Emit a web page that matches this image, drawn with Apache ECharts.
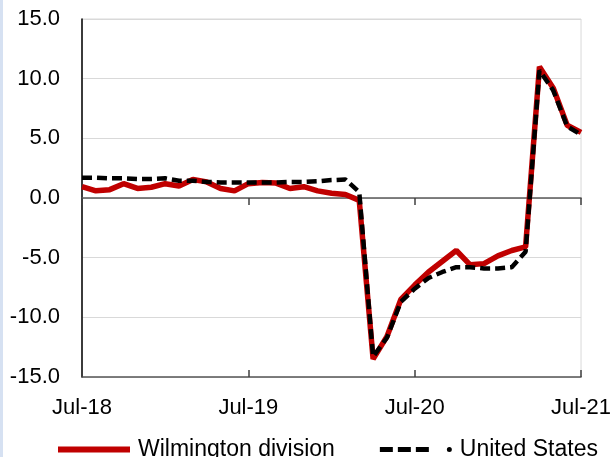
<!DOCTYPE html>
<html>
<head>
<meta charset="utf-8">
<script src="https://cdn.jsdelivr.net/npm/echarts@6/dist/echarts.min.js"></script>
<style>
html,body{margin:0;padding:0;background:#fff;}
#strip{position:absolute;left:0;top:0;width:3px;height:457px;background:#D6E1F2;}
#chart{position:absolute;left:0;top:0;width:614px;height:457px;}
</style>
</head>
<body>
<div id="chart"></div>
<div id="strip"></div>
<script>
const months = ["Jul-18","Aug-18","Sep-18","Oct-18","Nov-18","Dec-18","Jan-19","Feb-19","Mar-19","Apr-19","May-19","Jun-19",
  "Jul-19","Aug-19","Sep-19","Oct-19","Nov-19","Dec-19","Jan-20","Feb-20","Mar-20","Apr-20","May-20","Jun-20",
  "Jul-20","Aug-20","Sep-20","Oct-20","Nov-20","Dec-20","Jan-21","Feb-21","Mar-21","Apr-21","May-21","Jun-21","Jul-21"];
const wilmington = [0.95,0.6,0.7,1.2,0.8,0.9,1.2,1.0,1.55,1.35,0.8,0.6,1.2,1.3,1.25,0.8,0.95,0.6,0.4,0.3,-0.2,
  -13.5,-11.6,-8.5,-7.3,-6.2,-5.3,-4.4,-5.6,-5.5,-4.85,-4.4,-4.1,11.0,9.2,6.1,5.5];
const unitedStates = [1.7,1.7,1.65,1.65,1.6,1.6,1.65,1.45,1.45,1.35,1.3,1.3,1.3,1.3,1.3,1.35,1.35,1.4,1.5,1.55,0.5,
  -13.3,-11.7,-8.7,-7.6,-6.7,-6.2,-5.8,-5.8,-5.9,-5.9,-5.8,-4.5,10.7,9.0,6.0,5.3];
const yTicks = {min:-15, max:15, interval:5};

const FONT = "Liberation Sans";
const US_ICON = 'path://M0,0.5h13v5h-13z M18,0.5h13v5h-13z M36,0.5h13v5h-13z M67,3a2.5,2.5 0 1,0 5,0a2.5,2.5 0 1,0 -5,0z';
const chart = echarts.init(document.getElementById('chart'));
const tickAxis = (inside) => ({
  type:'category', data:months, boundaryGap:false, position:'bottom',
  axisLine:{show:true, onZero:true, lineStyle:{color:'#595959', width:1.5}},
  axisTick:{show:true, inside:inside, length:7, interval:11, lineStyle:{color:'#404040', width:1.5}},
  axisLabel:{show:false, interval:11},
  splitLine:{show:false}
});
chart.setOption({
  animation:false,
  textStyle:{fontFamily:FONT},
  grid:{left:82, right:29, top:19, bottom:80, show:true, borderColor:'#D9D9D9', borderWidth:1, containLabel:false},
  legend:{
    left:53, top:433, itemWidth:72, itemHeight:6, itemGap:45,
    textStyle:{fontFamily:FONT, fontSize:23, color:'#000', padding:[0,0,0,3]},
    itemStyle:{borderWidth:0},
    data:[{name:'Wilmington division', icon:'rect'},{name:'United States', icon:US_ICON}]
  },
  xAxis:[
    {type:'category', data:months, boundaryGap:false, position:'bottom',
     axisLine:{show:false, onZero:false}, axisTick:{show:false},
     axisLabel:{interval:11, margin:20, fontSize:22, color:'#000', fontFamily:FONT},
     splitLine:{show:false}},
    tickAxis(false),
    tickAxis(true)
  ],
  yAxis:{
    type:'value', min:yTicks.min, max:yTicks.max, interval:yTicks.interval,
    axisLine:{show:true, onZero:false, lineStyle:{color:'#000', width:1.5}},
    axisTick:{show:false},
    axisLabel:{margin:22, fontSize:22, color:'#000', fontFamily:FONT, formatter:v=>v.toFixed(1)},
    splitLine:{show:true, lineStyle:{color:'#D9D9D9', width:1}}
  },
  series:[
    {name:'Wilmington division', type:'line', data:wilmington, xAxisIndex:0, symbol:'none', smooth:false,
     lineStyle:{color:'#C00000', width:5.5}, itemStyle:{color:'#C00000'}, z:3},
    {name:'United States', type:'line', data:unitedStates, xAxisIndex:0, symbol:'none', smooth:false,
     lineStyle:{color:'#000000', width:4.5, type:[10,5]}, itemStyle:{color:'#000000'}, z:4}
  ]
});
</script>
</body>
</html>
